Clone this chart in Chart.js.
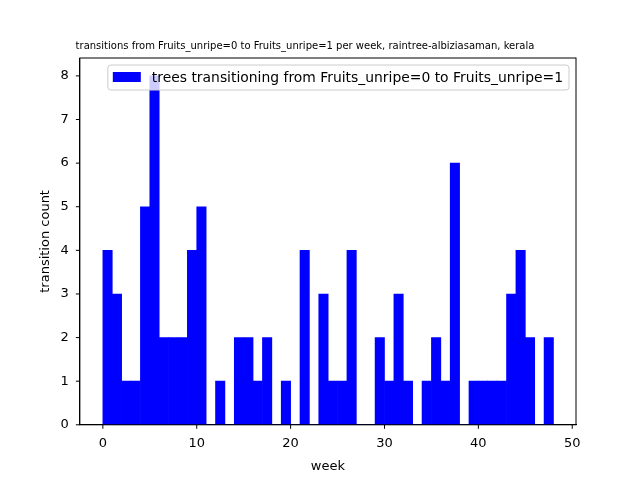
<!DOCTYPE html>
<html><head><meta charset="utf-8">
<script src="https://cdn.jsdelivr.net/npm/chart.js@4"></script>
<style>html,body{margin:0;background:#fff}#wrap{width:640px;height:480px}</style>
</head><body><div id="wrap"><canvas id="c" width="640" height="480"></canvas></div>
<script>
// weekly bins 0..48
const weeks = Array.from({length: 48}, (_, i) => i + 0.5);
const counts = [4,3,1,1,5,8,2,2,2,4,5,0,1,0,2,2,1,2,0,1,0,4,0,3,1,1,4,0,0,2,1,3,1,0,1,2,1,6,0,1,1,1,1,3,4,2,0,2];
const xTicks = [0,10,20,30,40,50];
const yTicks = [0,1,2,3,4,5,6,7,8];
const LABEL = 'trees transitioning from Fruits_unripe=0 to Fruits_unripe=1';
const TITLE = 'transitions from Fruits_unripe=0 to Fruits_unripe=1 per week, raintree-albiziasaman, kerala';

const legendBox = {
  id: 'legendBox',
  afterDraw(chart) {
    const ctx = chart.ctx, a = chart.chartArea;
    ctx.save();
    ctx.font = '13.9px "DejaVu Sans"';
    const w = ctx.measureText(LABEL).width + 50;
    const x = a.right - 7 - w, y = a.top + 7;
    ctx.fillStyle = 'rgba(255,255,255,0.8)';
    ctx.strokeStyle = '#ccc';
    ctx.beginPath(); ctx.roundRect(x, y, w, 25, 3); ctx.fill(); ctx.stroke();
    ctx.fillStyle = '#0000ff';
    ctx.fillRect(x + 5, y + 7, 28, 10);
    ctx.fillStyle = '#000';
    ctx.textBaseline = 'middle';
    ctx.fillText(LABEL, x + 44, y + 13);
    ctx.restore();
  }
};

new Chart(document.getElementById('c'), {
  type: 'bar',
  data: {
    datasets: [{
      label: LABEL,
      data: weeks.map((w, i) => ({x: w, y: counts[i]})),
      backgroundColor: '#0000ff',
      borderWidth: 0,
      barPercentage: 1,
      categoryPercentage: 1,
    }],
  },
  options: {
    animation: false,
    responsive: false,
    layout: {padding: {left: 34, right: 64, top: 12, bottom: 2}},
    plugins: {
      legend: {display: false},
      tooltip: {enabled: false},
      title: {display: true, text: TITLE, color: '#000', font: {size: 10, family: 'DejaVu Sans', weight: 'normal'}, padding: {top: 28, bottom: 6}},
    },
    scales: {
      x: {
        type: 'linear', min: -2.45, max: 50.4, offset: false,
        afterBuildTicks: s => { s.ticks = xTicks.map(v => ({value: v})); },
        ticks: {color: '#000', font: {size: 13, family: 'DejaVu Sans'}},
        grid: {display: false},
        border: {color: '#000'},
        title: {display: true, text: 'week', color: '#000', font: {size: 13, family: 'DejaVu Sans'}},
      },
      y: {
        min: 0, max: 8.41,
        afterBuildTicks: s => { s.ticks = yTicks.map(v => ({value: v})); },
        ticks: {color: '#000', font: {size: 13, family: 'DejaVu Sans'}},
        grid: {display: false},
        border: {color: '#000'},
        title: {display: true, text: 'transition count', color: '#000', font: {size: 13, family: 'DejaVu Sans'}},
      },
    },
  },
  plugins: [legendBox, {
    id: 'frame',
    afterDraw(chart) {
      const ctx = chart.ctx, a = chart.chartArea;
      ctx.save(); ctx.strokeStyle = '#000'; ctx.lineWidth = 1;
      ctx.strokeRect(a.left, a.top, a.right - a.left, a.bottom - a.top);
      // tick marks
      ctx.beginPath();
      for (const v of xTicks) { const px = chart.scales.x.getPixelForValue(v); ctx.moveTo(px, a.bottom); ctx.lineTo(px, a.bottom + 4); }
      for (const v of yTicks) { const py = chart.scales.y.getPixelForValue(v); ctx.moveTo(a.left, py); ctx.lineTo(a.left - 4, py); }
      ctx.stroke();
      ctx.restore();
    }
  }],
});
</script></body></html>
